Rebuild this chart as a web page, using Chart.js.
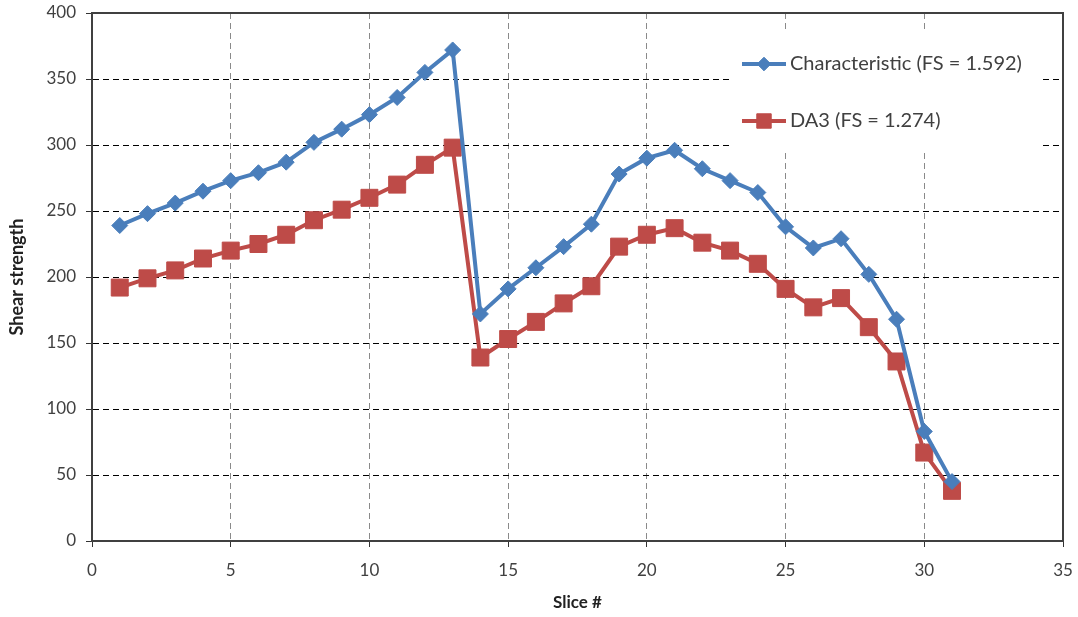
<!DOCTYPE html>
<html>
<head>
<meta charset="utf-8">
<script src="https://cdn.jsdelivr.net/npm/chart.js@4"></script>
<style>
  html, body { margin: 0; padding: 0; background: #fff; }
  #wrap { width: 1078px; height: 617px; }
</style>
</head>
<body>
<div id="wrap"><canvas id="chart" width="1078" height="617"></canvas></div>
<script>
const slices = [1,2,3,4,5,6,7,8,9,10,11,12,13,14,15,16,17,18,19,20,21,22,23,24,25,26,27,28,29,30,31];
const characteristic = [239,248,256,265,273,279,287,302,312,323,336,355,372,172,191,207,223,240,278,290,296,282,273,264,238,222,229,202,168,83,45];
const da3 = [192,199,205,214,220,225,232,243,251,260,270,285,298,139,153,166,180,193,223,232,237,226,220,210,191,177,184,162,136,67,38];
const seriesLabels = ["Characteristic (FS = 1.592)", "DA3 (FS = 1.274)"];

const BLUE = "#4A7EBB";
const RED = "#BE4B48";
const FONT = "Lato, 'Open Sans', sans-serif";
const TEXT = "#404040";

// legend box drawn inside the plot, above the grid
const boxLegend = {
  id: "boxLegend",
  beforeDatasetsDraw(chart) {
    const ctx = chart.ctx;
    const a = chart.chartArea;
    const x0 = a.right - 330, y0 = a.top + 19;
    ctx.save();
    ctx.fillStyle = "#fff";
    ctx.fillRect(x0, y0, 306, 118);
    chart.data.datasets.forEach((ds, i) => {
      const y = y0 + 32 + i * 57;
      const lx = x0 + 9;
      ctx.setLineDash([]);
      ctx.strokeStyle = ds.borderColor;
      ctx.lineWidth = 4;
      ctx.beginPath();
      ctx.moveTo(lx, y);
      ctx.lineTo(lx + 44, y);
      ctx.stroke();
      ctx.fillStyle = ds.backgroundColor;
      ctx.lineWidth = 1;
      Chart.helpers.drawPoint(ctx, {
        pointStyle: ds.pointStyle, radius: ds.pointRadius * 0.85, borderWidth: 1
      }, lx + 22, y);
      ctx.fillStyle = TEXT;
      ctx.font = "20px " + FONT;
      ctx.textBaseline = "middle";
      ctx.fillText(ds.label, lx + 48, y);
    });
    ctx.restore();
  },
  afterDatasetsDraw(chart) {
    const ctx = chart.ctx;
    const a = chart.chartArea;
    ctx.save();
    ctx.strokeStyle = "#404040";
    ctx.lineWidth = 2;
    ctx.strokeRect(a.left, a.top, a.right - a.left, a.bottom - a.top);
    ctx.restore();
  }
};

new Chart(document.getElementById("chart"), {
  type: "line",
  data: {
    labels: slices,
    datasets: [
      {
        label: seriesLabels[0],
        data: slices.map((s, i) => ({ x: s, y: characteristic[i] })),
        borderColor: BLUE, backgroundColor: BLUE,
        borderWidth: 4, pointStyle: "rectRot", pointRadius: 8,
        pointBorderWidth: 1, tension: 0
      },
      {
        label: seriesLabels[1],
        data: slices.map((s, i) => ({ x: s, y: da3[i] })),
        borderColor: RED, backgroundColor: RED,
        borderWidth: 4, pointStyle: "rect", pointRadius: 12,
        pointBorderWidth: 1, tension: 0
      }
    ]
  },
  options: {
    responsive: false,
    animation: false,
    layout: { padding: { top: 13, right: 15, left: 0, bottom: 0 } },
    plugins: { legend: { display: false }, tooltip: { enabled: false } },
    scales: {
      x: {
        type: "linear", min: 0, max: 35,
        ticks: { stepSize: 5, color: TEXT, font: { family: FONT, size: 17 }, padding: 13 },
        grid: { color: "#8a8a8a", tickBorderDash: [], tickColor: "#333", tickLength: 6 },
        border: { color: "#222", width: 2, dash: [6, 4] },
        title: { display: true, text: "Slice #", color: "#222", font: { family: FONT, size: 17, weight: "bold" }, padding: { top: 8 } },
        afterFit: s => { s.height = 76; s.paddingLeft = 0; s.paddingRight = 0; }
      },
      y: {
        min: 0, max: 400,
        ticks: { stepSize: 50, color: TEXT, font: { family: FONT, size: 17 }, padding: 10 },
        grid: { color: "#000", tickBorderDash: [], tickColor: "#333", tickLength: 6 },
        border: { color: "#222", width: 2, dash: [6, 4] },
        title: { display: true, text: "Shear strength", color: "#222", font: { family: FONT, size: 18, weight: "bold" }, padding: { top: 6, bottom: 2 } },
        afterFit: s => { s.width = 92; s.paddingTop = 0; s.paddingBottom = 0; }
      }
    }
  },
  plugins: [boxLegend]
});
</script>
</body>
</html>
